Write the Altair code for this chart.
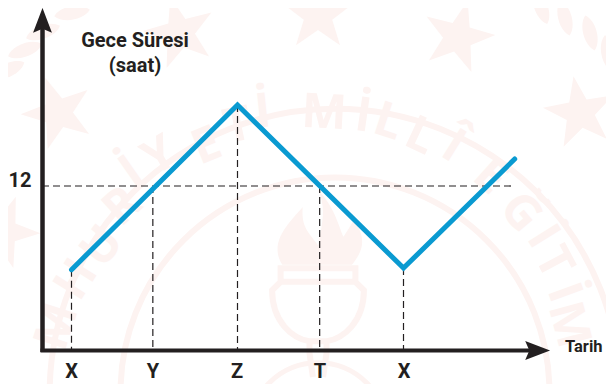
import math
import altair as alt
import pandas as pd

# ---- chart values ----
tick_labels = ["X", "Y", "Z", "T", "X"]
tick_pos = [1, 1.98, 3, 3.99, 5]
line_x = [1, 3, 5, 6.34]
line_h = [8.9, 15, 8.96, 13]
tick_h = [8.9, 12, 15, 12, 8.96]
ref_hours = 12

INK = "#231f20"
BLUE = "#0a9ad1"
WM = "#fdf3f1"

# plot area covers the page: unit conversions for the scale
X0, PXU = 71.5, 83.0
H0, PYU = 186.0, 27.0
def ux(px): return 1 + (px - X0) / PXU
def uy(py): return 12 - (py - H0) / PYU
xs = alt.Scale(domain=[ux(8), ux(606)], range=[0, 598], nice=False, zero=False)
ys = alt.Scale(domain=[uy(384), uy(8)], range=[376, 0], nice=False, zero=False)
X = lambda f="x": alt.X(f"{f}:Q", scale=xs, axis=None)
Y = lambda f="y": alt.Y(f"{f}:Q", scale=ys, axis=None)

# ---- pale watermark ----
wm_chars = list("MHURİYETİMİLLÎEĞİTİM")
wm_px = [58, 77, 103, 123, 132, 160, 207, 238, 263, 324, 363, 388, 420, 453, 490, 520, 542, 553, 563, 568]
wm_py = [327, 280, 247, 207, 173, 157, 147, 127, 113, 114, 117, 123, 137, 147, 177, 213, 237, 263, 293, 325]
wm_ang = [288, 302, 308, 318, 325, 330, 338, 348, 354, 3, 8, 18, 25, 32, 42, 50, 58, 62, 70, 75]
wm_text = alt.Chart(pd.DataFrame({
    "c": wm_chars, "x": [ux(v) for v in wm_px], "y": [uy(v) for v in wm_py], "a": wm_ang
})).mark_text(font="Open Sans", fontWeight="bold", fontSize=48, color=WM, baseline="middle", align="center").encode(
    x=X(), y=Y(), text="c:N", angle=alt.Angle("a:Q", scale=None))

STAR = "M0,-1 L0.235,-0.325 L0.951,-0.309 L0.38,0.124 L0.588,0.809 L0,0.4 L-0.588,0.809 L-0.38,0.124 L-0.951,-0.309 L-0.235,-0.325 Z"
star_px = [318, 458, 580, 58, 180, 3]
star_py = [15, 37, 113, 113, 33, 232]
star_ang = [0, 15, 350, 340, 345, 20]
wm_stars = alt.Chart(pd.DataFrame({
    "x": [ux(v) for v in star_px], "y": [uy(v) for v in star_py], "a": star_ang
})).mark_point(shape=STAR, filled=True, size=5600, color=WM, opacity=1).encode(
    x=X(), y=Y(), angle=alt.Angle("a:Q", scale=None))

LEAF = "M0,-1 C0.5,-0.6 0.5,0.6 0,1 C-0.5,0.6 -0.5,-0.6 0,-1 Z"
leaf_px = [541, 565, 590, 608, 72, 43, 25, 8]
leaf_py = [7, 18, 33, 53, 13, 32, 50, 70]
leaf_ang = [340, 345, 345, 350, 80, 70, 70, 65]
wm_leaves = alt.Chart(pd.DataFrame({
    "x": [ux(v) for v in leaf_px], "y": [uy(v) for v in leaf_py], "a": leaf_ang
})).mark_point(shape=LEAF, filled=True, size=1300, color=WM, opacity=1).encode(
    x=X(), y=Y(), angle=alt.Angle("a:Q", scale=None))

ring_r = [322, 242, 78]
ring_cx = [335, 335, 318]
ring_cy = [394, 392, 432]
ring_w = [6, 6, 5]
wm_rings = alt.Chart(pd.DataFrame({
    "x": [ux(v) for v in ring_cx], "y": [uy(v) for v in ring_cy],
    "s": [math.pi * r ** 2 for r in ring_r], "w": ring_w
})).mark_point(filled=False, color=WM, opacity=1).encode(
    x=X(), y=Y(), size=alt.Size("s:Q", scale=None, legend=None),
    strokeWidth=alt.StrokeWidth("w:Q", scale=None, legend=None))

CUP = ("M-0.44,-0.28 L0.44,-0.28 L0.44,-0.12 L-0.44,-0.12 Z "
       "M-0.44,-0.12 L-0.54,-0.02 C-0.54,0.35 -0.3,0.55 -0.1,0.58 L-0.1,0.72 L-0.06,1 "
       "M0.44,-0.12 L0.54,-0.02 C0.54,0.35 0.3,0.55 0.1,0.58 L0.1,0.72 L0.06,1 "
       "M-0.1,0.58 L0.1,0.58")
FLAME = ("M-0.42,-0.32 C-0.6,-0.6 -0.3,-0.85 -0.18,-1 C-0.2,-0.75 -0.1,-0.7 0,-0.55 "
         "C0.05,-0.8 0.1,-1 0,-1.2 C0.2,-1 0.25,-0.75 0.3,-0.65 C0.4,-0.8 0.42,-0.85 0.42,-0.85 "
         "C0.6,-0.6 0.5,-0.45 0.4,-0.32 Z")
torch = pd.DataFrame({"x": [ux(318)], "y": [uy(292)]})
wm_cup = alt.Chart(torch).mark_point(shape=CUP, filled=False, size=28900, color=WM, strokeWidth=6, opacity=1).encode(x=X(), y=Y())
wm_flame = alt.Chart(torch).mark_point(shape=FLAME, filled=True, size=28900, color=WM, opacity=1).encode(x=X(), y=Y())

# ---- guides ----
floor_h = uy(350.5)
guides_v = alt.Chart(pd.DataFrame({"x": tick_pos, "y": tick_h, "y2": [floor_h] * 5})).mark_rule(
    color=INK, strokeWidth=1.2, strokeDash=[7, 4]).encode(x=X(), y=Y(), y2="y2:Q")
guide_h = alt.Chart(pd.DataFrame({"x": [ux(42)], "x2": [ux(514)], "y": [ref_hours]})).mark_rule(
    color=INK, strokeWidth=1.2, strokeDash=[7, 4]).encode(x=X(), x2="x2:Q", y=Y())

# ---- axes ----
axis_x = alt.Chart(pd.DataFrame({"x": [ux(40.5)], "x2": [ux(530)], "y": [floor_h]})).mark_rule(
    color=INK, strokeWidth=4).encode(x=X(), x2="x2:Q", y=Y())
axis_y = alt.Chart(pd.DataFrame({"x": [ux(42.5)], "y": [uy(352)], "y2": [uy(28)]})).mark_rule(
    color=INK, strokeWidth=4.5).encode(x=X(), y=Y(), y2="y2:Q")
HEAD = "M0,-1 L0.57,0.5 L0,0.25 L-0.57,0.5 Z"
head_x = alt.Chart(pd.DataFrame({"x": [ux(533.5)], "y": [floor_h]})).mark_point(
    shape=HEAD, filled=True, size=1100, color=INK, opacity=1, angle=90).encode(x=X(), y=Y())
head_y = alt.Chart(pd.DataFrame({"x": [ux(42.5)], "y": [uy(24.5)]})).mark_point(
    shape=HEAD, filled=True, size=1100, color=INK, opacity=1, angle=0).encode(x=X(), y=Y())

# ---- the series ----
line = alt.Chart(pd.DataFrame({"x": line_x, "y": line_h, "o": range(len(line_x))})).mark_line(
    color=BLUE, strokeWidth=5, strokeCap="round", strokeJoin="miter").encode(x=X(), y=Y(), order="o:Q")

# ---- text ----
FONT = "Roboto"
def label(t, px, py, size=20, align="center"):
    return alt.Chart(pd.DataFrame({"x": [ux(px)], "y": [uy(py)], "t": [t]})).mark_text(
        font=FONT, fontWeight="bold", fontSize=size, color=INK, align=align, baseline="middle"
    ).encode(x=X(), y=Y(), text="t:N")

ticks = alt.Chart(pd.DataFrame({"x": [ux(71.5), ux(153), ux(237), ux(320), ux(404)], "y": [uy(372)] * 5, "t": tick_labels})).mark_text(
    font=FONT, fontWeight="bold", fontSize=20, color=INK, align="center", baseline="middle"
).encode(x=X(), y=Y(), text="t:N", detail="x:Q")

chart = alt.layer(
    wm_rings, wm_stars, wm_leaves, wm_text, wm_flame, wm_cup,
    guides_v, guide_h, axis_x, axis_y, head_x, head_y, line,
    label("Gece Süresi", 135, 41, 20), label("(saat)", 135, 66, 20),
    label("12", 20, 181, 20), label("Tarih", 565, 347, 16.5, "left"), ticks,
).properties(width=598, height=376, padding=0, autosize="none", background="white"
).configure_view(stroke=None)

chart.save("out.html", embed_options={"renderer": "svg", "actions": False})
